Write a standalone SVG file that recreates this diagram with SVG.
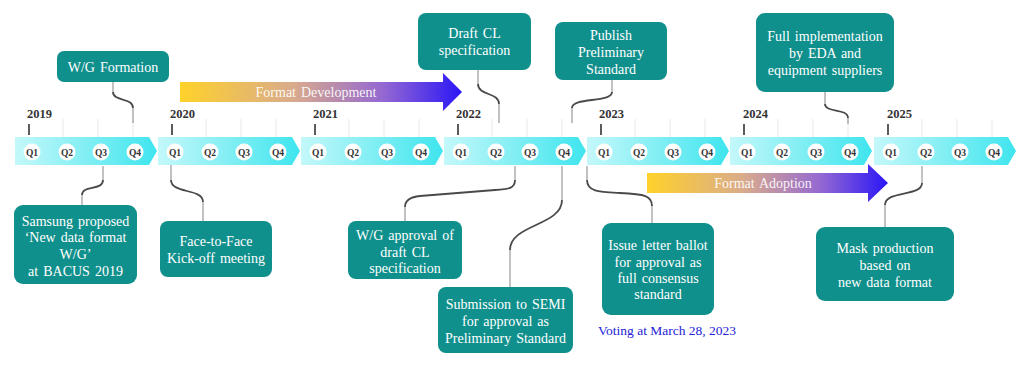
<svg xmlns="http://www.w3.org/2000/svg" width="1028" height="366" viewBox="0 0 1028 366" font-family="'Liberation Serif', 'DejaVu Serif', serif">
<defs>
<linearGradient id="band" x1="0" y1="0" x2="1" y2="0">
<stop offset="0" stop-color="#c4f8fa"/>
<stop offset="1" stop-color="#3fe5ee"/>
</linearGradient>
<linearGradient id="flow" x1="0" y1="0" x2="1" y2="0">
<stop offset="0" stop-color="#ffd22a"/>
<stop offset="0.4" stop-color="#d9ab8c"/>
<stop offset="0.72" stop-color="#9468d2"/>
<stop offset="1" stop-color="#2a16f6"/>
</linearGradient>
<g id="seg">
<path d="M0 137 H134 L142 151 L134 165 H0 Z" fill="url(#band)"/>
<g class="grid"><line x1="48" y1="119" x2="48" y2="137"/><line x1="83" y1="119" x2="83" y2="137"/><line x1="118" y1="119" x2="118" y2="137"/></g>
<line class="tick" x1="14" y1="124" x2="14" y2="135"/>
<circle class="q" cx="17" cy="152" r="8.5"/><circle class="q" cx="52" cy="152" r="8.5"/><circle class="q" cx="86" cy="152" r="8.5"/><circle class="q" cx="120" cy="152" r="8.5"/>
<text class="ql" x="17" y="155.5">Q1</text><text class="ql" x="52" y="155.5">Q2</text><text class="ql" x="86" y="155.5">Q3</text><text class="ql" x="120" y="155.5">Q4</text>
</g>
</defs>
<style>
text{font-family:"Liberation Serif","DejaVu Serif",serif}
.grid line{stroke:#e8e8e8;stroke-width:1}
.tick{stroke:#333;stroke-width:1.6}
.q{fill:#fff}
.ql{font-weight:bold;font-size:9.5px;fill:#333;text-anchor:middle}
.yr{font-weight:bold;font-size:12.5px;fill:#333}
.box{fill:#10908c}
.bt{font-size:14px;fill:#fff;text-anchor:middle;word-spacing:1.5px}
.at{font-size:14px;fill:#fff;fill-opacity:0.92;text-anchor:middle;word-spacing:1.5px}
.cs{fill:none;stroke:#9a9a9a;stroke-width:1.2}
.cc{fill:none;stroke:#4a4a4a;stroke-width:1.8}
.vote{font-size:13.5px;fill:#2323d8}
</style>
<rect width="1028" height="366" fill="#fff"/>
<g id="timeline">
<use href="#seg" x="15"/>
<use href="#seg" x="158"/>
<use href="#seg" x="301"/>
<use href="#seg" x="444"/>
<use href="#seg" x="587"/>
<use href="#seg" x="730"/>
<use href="#seg" x="874"/>
<text class="yr" x="27" y="118">2019</text>
<text class="yr" x="170" y="118">2020</text>
<text class="yr" x="313" y="118">2021</text>
<text class="yr" x="456" y="118">2022</text>
<text class="yr" x="599" y="118">2023</text>
<text class="yr" x="743" y="118">2024</text>
<text class="yr" x="887" y="118">2025</text>
</g>
<g id="format-development">
<path d="M180 82 H443 V73 L462 92 L443 111 V102 H180 Z" fill="url(#flow)"/>
<text class="at" x="316" y="97">Format Development</text>
</g>
<g id="format-adoption">
<path d="M647 173 H868 V164 L888 183 L868 202 V193 H647 Z" fill="url(#flow)"/>
<text class="at" x="763" y="188">Format Adoption</text>
</g>
<g id="connectors">
<path class="cs" d="M113 82 V92 M133 108 V123"/>
<path class="cc" d="M113 92 C113 102 133 97 133 108"/>
<path class="cs" d="M478 70 V84 M499 104 V123"/>
<path class="cc" d="M478 84 C478 96 499 92 499 104"/>
<path class="cs" d="M612 80 V92 M572 108 V123"/>
<path class="cc" d="M612 92 C612 103 572 97 572 108"/>
<path class="cs" d="M825 92 V104 M848 118 V124"/>
<path class="cc" d="M825 104 C825 113 848 108 848 118"/>
<path class="cs" d="M103 166 V180 M82 195 V205"/>
<path class="cc" d="M103 180 C103 191 82 185 82 195"/>
<path class="cs" d="M171 165 V180 M203 202 V221"/>
<path class="cc" d="M171 180 C171 194 203 188 203 202"/>
<path class="cs" d="M515 166 V180 M405 207 V221"/>
<path class="cc" d="M515 180 C515 188 510 189 495 190 L420 196 C410 197 405 200 405 207"/>
<path class="cs" d="M562 166 V200 M510 250 V287"/>
<path class="cc" d="M562 200 C562 226 510 224 510 250"/>
<path class="cs" d="M587 166 V180 M652 206 V223"/>
<path class="cc" d="M587 180 C587 192 600 192 620 193 C645 194 652 196 652 206"/>
<path class="cs" d="M922 166 V183 M885 205 V227"/>
<path class="cc" d="M922 183 C922 197 885 190 885 205"/>
</g>
<g id="wg-formation">
<rect class="box" x="57" y="51" width="112" height="31" rx="7"/>
<text class="bt" x="113" y="72">W/G Formation</text>
</g>
<g id="draft-cl">
<rect class="box" x="418" y="13" width="113" height="57" rx="8"/>
<text class="bt" x="474.5" y="38">Draft CL</text>
<text class="bt" x="474.5" y="55">specification</text>
</g>
<g id="publish">
<rect class="box" x="555" y="22" width="112" height="58" rx="8"/>
<text class="bt" x="611" y="40">Publish</text>
<text class="bt" x="611" y="57">Preliminary</text>
<text class="bt" x="611" y="74">Standard</text>
</g>
<g id="full-impl">
<rect class="box" x="756" y="13" width="138" height="79" rx="9"/>
<text class="bt" x="825" y="41">Full implementation</text>
<text class="bt" x="825" y="58">by EDA and</text>
<text class="bt" x="825" y="75">equipment suppliers</text>
</g>
<g id="samsung">
<rect class="box" x="14" y="205" width="123" height="79" rx="9"/>
<text class="bt" x="75.5" y="226">Samsung proposed</text>
<text class="bt" x="75.5" y="242">‘New data format</text>
<text class="bt" x="75.5" y="259">W/G’</text>
<text class="bt" x="75.5" y="276">at BACUS 2019</text>
</g>
<g id="face-to-face">
<rect class="box" x="160" y="221" width="112" height="56" rx="8"/>
<text class="bt" x="216" y="246">Face-to-Face</text>
<text class="bt" x="216" y="263">Kick-off meeting</text>
</g>
<g id="wg-approval">
<rect class="box" x="348" y="221" width="114" height="58" rx="8"/>
<text class="bt" x="405" y="240">W/G approval of</text>
<text class="bt" x="405" y="257">draft CL</text>
<text class="bt" x="405" y="273">specification</text>
</g>
<g id="submission">
<rect class="box" x="438" y="287" width="135" height="66" rx="8"/>
<text class="bt" x="505.5" y="309">Submission to SEMI</text>
<text class="bt" x="505.5" y="326">for approval as</text>
<text class="bt" x="505.5" y="343">Preliminary Standard</text>
</g>
<g id="issue-ballot">
<rect class="box" x="602" y="223" width="112" height="92" rx="9"/>
<text class="bt" x="658" y="250">Issue letter ballot</text>
<text class="bt" x="658" y="267">for approval as</text>
<text class="bt" x="658" y="283">full consensus</text>
<text class="bt" x="658" y="299">standard</text>
</g>
<g id="mask-production">
<rect class="box" x="816" y="227" width="138" height="74" rx="9"/>
<text class="bt" x="885" y="253">Mask production</text>
<text class="bt" x="885" y="270">based on</text>
<text class="bt" x="885" y="287">new data format</text>
</g>
<text class="vote" x="598" y="335">Voting at March 28, 2023</text>
</svg>
